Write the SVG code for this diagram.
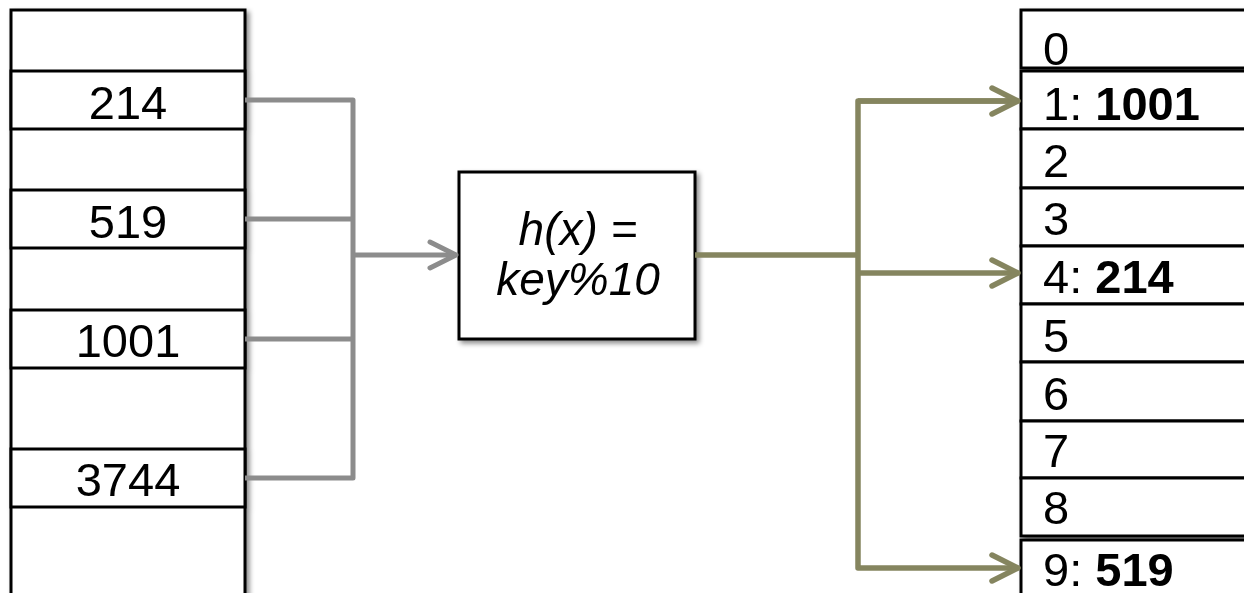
<svg xmlns="http://www.w3.org/2000/svg" width="1244" height="593" viewBox="0 0 1244 593">
  <defs>
    <filter id="shadow" x="-10%" y="-10%" width="130%" height="130%">
      <feDropShadow dx="3" dy="3" stdDeviation="2.5" flood-color="#000" flood-opacity="0.45"/>
    </filter>
    <marker id="arrowGray" viewBox="0 0 34 34" refX="30" refY="17" markerWidth="34" markerHeight="34" markerUnits="userSpaceOnUse" orient="auto">
      <path d="M4,4 L30,17 L4,30" fill="none" stroke="#8c8c8c" stroke-width="5" stroke-linecap="round" stroke-linejoin="round"/>
    </marker>
    <marker id="arrowOlive" viewBox="0 0 34 34" refX="30" refY="17" markerWidth="34" markerHeight="34" markerUnits="userSpaceOnUse" orient="auto">
      <path d="M4,4 L30,17 L4,30" fill="none" stroke="#85855f" stroke-width="5.5" stroke-linecap="round" stroke-linejoin="round"/>
    </marker>
  </defs>
  <style>
    .cell { fill: #ffffff; stroke: #000000; stroke-width: 3; }
    .txt { font-family: "Liberation Sans", Arial, sans-serif; font-size: 47px; fill: #000000; }
    .mid { text-anchor: middle; }
    .b { font-weight: bold; }
    .hash { font-family: "Liberation Sans", Arial, sans-serif; font-size: 46px; font-style: italic; text-anchor: middle; fill: #000000; }
    .gray { fill: none; stroke: #8c8c8c; stroke-width: 5; stroke-linejoin: round; }
    .olive { fill: none; stroke: #85855f; stroke-width: 5.5; stroke-linejoin: round; }
  </style>
  <rect width="1244" height="593" fill="#ffffff"/>

  <!-- input array of keys -->
  <g id="input-array" filter="url(#shadow)">
    <rect class="cell" x="11" y="10" width="234" height="600"/>
    <rect class="cell" x="11" y="71" width="234" height="58"/>
    <rect class="cell" x="11" y="190" width="234" height="58"/>
    <rect class="cell" x="11" y="310" width="234" height="58"/>
    <rect class="cell" x="11" y="449" width="234" height="58"/>
    <text class="txt mid" x="128" y="119">214</text>
    <text class="txt mid" x="128" y="238">519</text>
    <text class="txt mid" x="128" y="357">1001</text>
    <text class="txt mid" x="128" y="496">3744</text>
  </g>

  <!-- hash function -->
  <g id="hash-function" filter="url(#shadow)">
    <rect class="cell" x="459" y="172" width="236" height="167"/>
    <text class="hash" x="578" y="245">h(x) =</text>
    <text class="hash" x="578" y="295">key%10</text>
  </g>

  <!-- hash table buckets -->
  <g id="hash-table" filter="url(#shadow)">
    <rect class="cell" x="1021" y="10" width="240" height="58"/>
    <rect class="cell" x="1021" y="71" width="240" height="58"/>
    <rect class="cell" x="1021" y="129" width="240" height="59"/>
    <rect class="cell" x="1021" y="188" width="240" height="58"/>
    <rect class="cell" x="1021" y="246" width="240" height="58"/>
    <rect class="cell" x="1021" y="304" width="240" height="58"/>
    <rect class="cell" x="1021" y="362" width="240" height="59"/>
    <rect class="cell" x="1021" y="421" width="240" height="57"/>
    <rect class="cell" x="1021" y="478" width="240" height="58"/>
    <rect class="cell" x="1021" y="540" width="240" height="70"/>
    <text class="txt" x="1043" y="65">0</text>
    <text class="txt" x="1043" y="120">1: <tspan class="b">1001</tspan></text>
    <text class="txt" x="1043" y="177">2</text>
    <text class="txt" x="1043" y="235">3</text>
    <text class="txt" x="1043" y="293">4: <tspan class="b">214</tspan></text>
    <text class="txt" x="1043" y="352">5</text>
    <text class="txt" x="1043" y="410">6</text>
    <text class="txt" x="1043" y="467">7</text>
    <text class="txt" x="1043" y="524">8</text>
    <text class="txt" x="1043" y="586">9: <tspan class="b">519</tspan></text>
  </g>

  <!-- connectors -->
  <g id="connectors">
    <path class="gray" d="M245,100 H353 V478 H245"/>
    <path class="gray" d="M245,219 H353"/>
    <path class="gray" d="M245,339 H353"/>
    <path class="gray" d="M353,255 H456" marker-end="url(#arrowGray)"/>
    <path class="olive" d="M695,255 H858"/>
    <path class="olive" d="M1018,101 H858 V568 H1018" marker-end="url(#arrowOlive)"/>
    <path class="olive" d="M858,101 H1018" marker-end="url(#arrowOlive)"/>
    <path class="olive" d="M858,273 H1018" marker-end="url(#arrowOlive)"/>
  </g>
</svg>
